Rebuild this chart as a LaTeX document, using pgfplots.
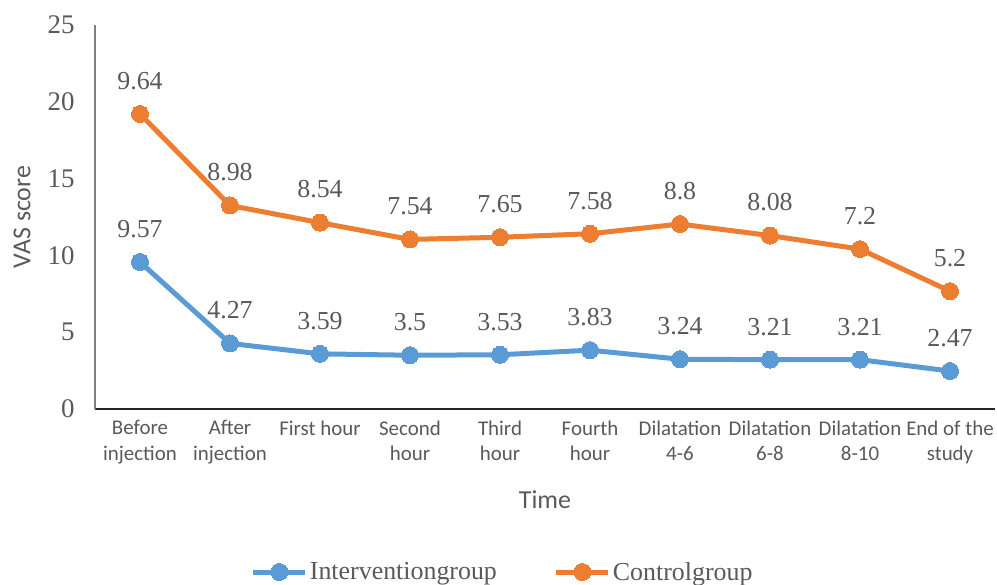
\documentclass[border=0pt]{standalone}
\usepackage{pgfplots}
\pgfplotsset{compat=1.18}
\usepackage{pgfplotstable}
\usepackage{fontspec}
\setmainfont{Liberation Serif}
\newfontfamily\carlito{Carlito}
\usetikzlibrary{calc}
\definecolor{cblue}{HTML}{5B9BD5}
\definecolor{corange}{HTML}{ED7D31}
\definecolor{tgray}{HTML}{595959}
\definecolor{agray}{HTML}{7F7F7F}

\pgfplotstableread{
x inter control
0 9.57 9.64
1 4.27 8.98
2 3.59 8.54
3 3.50 7.54
4 3.53 7.65
5 3.83 7.58
6 3.24 8.80
7 3.21 8.08
8 3.21 7.20
9 2.47 5.20
}\datatable

\begin{document}
\begin{tikzpicture}
\begin{axis}[
  scale only axis,
  width=900bp, height=384bp,
  xmin=-0.5, xmax=9.5,
  ymin=0, ymax=25,
  ytick={0,5,10,15,20,25},
  xtick={0,...,9},
  xticklabels={Before\\injection,After\\injection,First hour,Second\\hour,Third\\hour,Fourth\\hour,Dilatation\\4-6,Dilatation\\6-8,Dilatation\\8-10,End of the\\study},
  x tick label style={font=\carlito\fontsize{21}{26}\selectfont, text=tgray, align=center, anchor=north, yshift=-8bp},
  y tick label style={font=\fontsize{27}{30}\selectfont, text=tgray, xshift=-17bp},
  /pgf/number format/assume math mode=true,
  major tick length=0pt,
  axis x line*=bottom,
  axis y line*=left,
  x axis line style={draw=black!85, line width=1.6bp, -},
  y axis line style={draw=agray, line width=1.2bp, -},
  xlabel={Time},
  xlabel style={font=\carlito\fontsize{26}{30}\selectfont, text=tgray, at={(rel axis cs:0.5,0)}, anchor=center, yshift=-91bp},
  stack plots=y,
  legend style={draw=none, fill=none, at={(0.453,-0.4245)}, anchor=center, legend columns=2,
    font=\fontsize{26}{30}\selectfont, text=tgray,
    /tikz/every even column/.append style={column sep=55bp}},
  legend image code/.code={\draw[mark repeat=2,mark phase=2,#1] plot coordinates {(0bp,0bp) (26bp,0bp) (52bp,0bp)};},
  nodes near coords,
  point meta=explicit,
  every node near coord/.append style={font=\fontsize{26}{30}\selectfont, text=tgray, anchor=south, yshift=21bp},
  clip=false,
]
\addplot[color=cblue, line width=5bp, mark=*, mark size=8.5bp, mark options={fill=cblue, draw=cblue, line width=0pt}]
  table[x=x, y=inter, meta=inter] {\datatable};
\addlegendentry{Interventiongroup}
\addplot[color=corange, line width=5bp, mark=*, mark size=8.5bp, mark options={fill=corange, draw=corange, line width=0pt}]
  table[x=x, y=control, meta=control] {\datatable};
\addlegendentry{Controlgroup}
\coordinate (bl) at (rel axis cs:0,0);
\coordinate (tr) at (rel axis cs:1,1);
\node[rotate=90, font=\carlito\fontsize{26}{30}\selectfont, text=tgray, anchor=center] at ([xshift=-73bp]rel axis cs:0,0.5) {VAS score};
\end{axis}
\pgfresetboundingbox
\useasboundingbox ($(bl)+(-95bp,-176bp)$) rectangle ($(tr)+(2bp,25bp)$);
\end{tikzpicture}
\end{document}
